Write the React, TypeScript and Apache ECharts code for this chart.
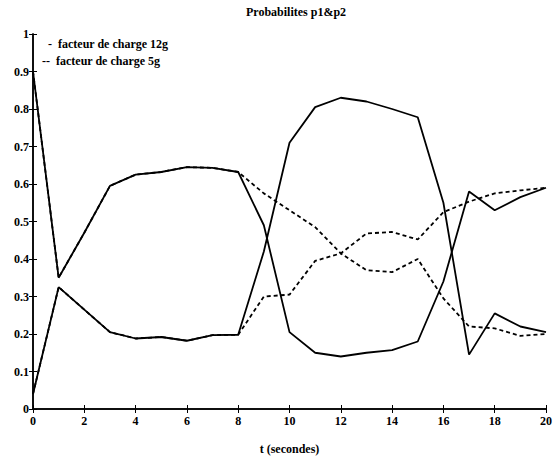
import React, { useEffect, useRef } from "react";
import * as echarts from "echarts";

const times = [0, 1, 2, 3, 4, 5, 6, 7, 8, 9, 10, 11, 12, 13, 14, 15, 16, 17, 18, 19, 20];
const p1_12g = [0.9, 0.35, 0.47, 0.595, 0.625, 0.632, 0.645, 0.643, 0.632, 0.49, 0.205, 0.15, 0.14, 0.15, 0.157, 0.18, 0.34, 0.58, 0.53, 0.565, 0.59];
const p2_12g = [0.04, 0.325, 0.265, 0.205, 0.188, 0.192, 0.182, 0.197, 0.198, 0.42, 0.71, 0.805, 0.83, 0.82, 0.8, 0.778, 0.55, 0.145, 0.255, 0.22, 0.205];
const p1_5g = [0.9, 0.35, 0.47, 0.595, 0.625, 0.632, 0.645, 0.643, 0.632, 0.575, 0.53, 0.485, 0.415, 0.37, 0.365, 0.4, 0.295, 0.22, 0.215, 0.195, 0.2];
const p2_5g = [0.04, 0.325, 0.265, 0.205, 0.188, 0.192, 0.182, 0.197, 0.198, 0.3, 0.305, 0.395, 0.415, 0.468, 0.472, 0.452, 0.525, 0.553, 0.575, 0.583, 0.59];

const titleText = "Probabilites p1&p2";
const xName = "t (secondes)";
const legend12 = "-  facteur de charge 12g";
const legend5 = "--  facteur de charge 5g";

const FONT = "'Liberation Serif', 'DejaVu Serif', serif";

function pairs(vals: number[]) {
  return times.map((t, i) => [t, vals[i]]);
}

export default function App() {
  const ref = useRef<HTMLDivElement>(null);
  useEffect(() => {
    document.body.style.margin = "0";
    if (!ref.current) return;
    const chart = echarts.init(ref.current, null, { renderer: "svg" });
    const axisLine = { show: true, lineStyle: { color: "#000", width: 1.5 } };
    const tickStyle = { show: true, inside: true, length: 4, lineStyle: { color: "#000", width: 1 } };
    const labelStyle = { color: "#000", fontFamily: FONT, fontWeight: "bold" as const, fontSize: 12 };
    const solid = { color: "#000", width: 1.8, type: "solid" as const };
    const dashed = { color: "#000", width: 1.8, type: [4, 3] as any };
    chart.setOption({
      animation: false,
      backgroundColor: "#fff",
      title: {
        text: titleText,
        left: 291,
        top: 1,
        textAlign: "center",
        textStyle: { color: "#000", fontFamily: FONT, fontWeight: "bold", fontSize: 12 },
      },
      grid: { left: 33, right: 7, top: 34, bottom: 55, containLabel: false },
      xAxis: [
        {
          type: "value",
          min: 0,
          max: 20,
          interval: 2,
          name: xName,
          nameLocation: "middle",
          nameGap: 34,
          nameTextStyle: { color: "#000", fontFamily: FONT, fontWeight: "bold", fontSize: 12 },
          axisLine,
          axisTick: tickStyle,
          axisLabel: { ...labelStyle, margin: 6 },
          splitLine: { show: false },
        },
        {
          type: "value",
          position: "top",
          min: 0,
          max: 20,
          interval: 2,
          axisLine,
          axisTick: tickStyle,
          axisLabel: { show: false },
          splitLine: { show: false },
        },
      ],
      yAxis: [
        {
          type: "value",
          min: 0,
          max: 1,
          interval: 0.1,
          axisLine,
          axisTick: tickStyle,
          axisLabel: { ...labelStyle, margin: 4 },
          splitLine: { show: false },
        },
        {
          type: "value",
          position: "right",
          min: 0,
          max: 1,
          interval: 0.1,
          axisLine,
          axisTick: tickStyle,
          axisLabel: { show: false },
          splitLine: { show: false },
        },
      ],
      series: [
        { name: "p1 12g", type: "line", data: pairs(p1_12g), showSymbol: false, lineStyle: solid, z: 3 },
        { name: "p2 12g", type: "line", data: pairs(p2_12g), showSymbol: false, lineStyle: solid, z: 3 },
        { name: "p1 5g", type: "line", data: pairs(p1_5g), showSymbol: false, lineStyle: dashed, z: 2 },
        { name: "p2 5g", type: "line", data: pairs(p2_5g), showSymbol: false, lineStyle: dashed, z: 2 },
      ],
      graphic: [
        {
          type: "text",
          left: 48,
          top: 38,
          style: { text: legend12, fill: "#000", font: `bold 12px ${FONT}` },
        },
        {
          type: "text",
          left: 42,
          top: 55,
          style: { text: legend5, fill: "#000", font: `bold 12px ${FONT}` },
        },
      ],
    });
    return () => chart.dispose();
  }, []);
  return <div ref={ref} style={{ width: 555, height: 464 }} />;
}
